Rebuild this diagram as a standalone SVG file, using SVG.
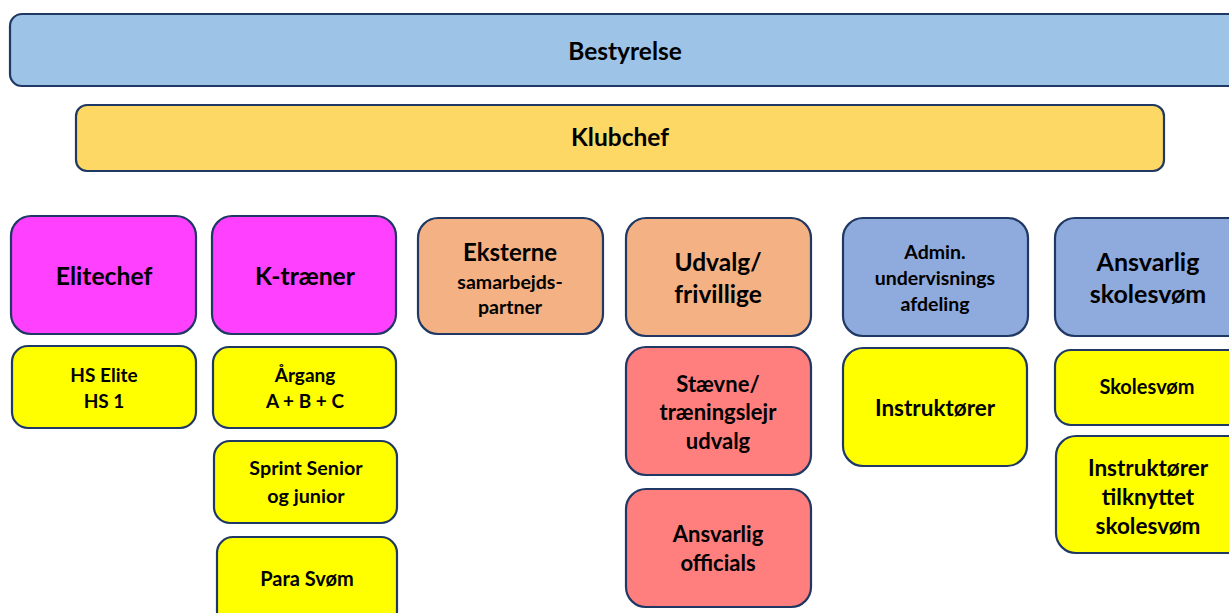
<svg xmlns="http://www.w3.org/2000/svg" width="1229" height="613" viewBox="0 0 1229 613">
<style>
rect{stroke:#1F3864;stroke-width:2.2}
text{font-family:Lato,"Liberation Sans",sans-serif;font-weight:bold;fill:#000;text-anchor:middle}
.b{fill:#9DC3E6}.k{fill:#FDD865}.m{fill:#FF40FF}.o{fill:#F4B183}.r{fill:#FF7F7F}.l{fill:#8FAADC}.y{fill:#FFFF00}
</style>
<rect width="1229" height="613" fill="#fff" style="stroke:none"/>
<g id="bestyrelse"><rect class="b" x="10" y="14" width="1240" height="72" rx="12"/><text x="625" y="60" font-size="24.5">Bestyrelse</text></g>
<g id="klubchef"><rect class="k" x="76" y="105" width="1088" height="66" rx="11"/><text x="620" y="146" font-size="24.5">Klubchef</text></g>
<g id="elitechef"><rect class="m" x="11" y="216" width="185" height="118" rx="20"/><text x="104" y="285" font-size="24.7">Elitechef</text></g>
<g id="ktraener"><rect class="m" x="212" y="216" width="184" height="118" rx="20"/><text x="305" y="285" font-size="24.7">K-træner</text></g>
<g id="hselite"><rect class="y" x="12" y="346" width="184" height="82" rx="16"/><text x="104" y="382" font-size="19">HS Elite</text><text x="104" y="408" font-size="19">HS 1</text></g>
<g id="aargang"><rect class="y" x="213" y="347" width="183" height="81" rx="16"/><text x="305" y="382" font-size="19">Årgang</text><text x="305" y="408" font-size="19">A + B + C</text></g>
<g id="sprint"><rect class="y" x="214" y="441" width="183" height="82" rx="16"/><text x="306" y="475" font-size="19.7">Sprint Senior</text><text x="306" y="503" font-size="19.7">og junior</text></g>
<g id="para"><rect class="y" x="217" y="537" width="180" height="90" rx="16"/><text x="307" y="586" font-size="20">Para Svøm</text></g>
<g id="eksterne"><rect class="o" x="418" y="218" width="185" height="116" rx="20"/><text x="510" y="261" font-size="24">Eksterne</text><text x="510" y="289" font-size="19.5">samarbejds-</text><text x="510" y="314" font-size="19.5">partner</text></g>
<g id="udvalg"><rect class="o" x="626" y="218" width="185" height="118" rx="20"/><text x="718" y="271" font-size="24.5">Udvalg/</text><text x="718" y="303" font-size="24.5">frivillige</text></g>
<g id="staevne"><rect class="r" x="626" y="347" width="185" height="128" rx="20"/><text x="718" y="392" font-size="22">Stævne/</text><text x="718" y="420" font-size="22">træningslejr</text><text x="718" y="449" font-size="22">udvalg</text></g>
<g id="officials"><rect class="r" x="626" y="489" width="185" height="118" rx="20"/><text x="718" y="542" font-size="22">Ansvarlig</text><text x="718" y="571" font-size="22">officials</text></g>
<g id="admin"><rect class="l" x="843" y="218" width="185" height="118" rx="20"/><text x="935" y="259" font-size="19.5">Admin.</text><text x="935" y="285" font-size="19.5">undervisnings</text><text x="935" y="311" font-size="19.5">afdeling</text></g>
<g id="instruktoerer"><rect class="y" x="843" y="348" width="184" height="118" rx="20"/><text x="935" y="416" font-size="22.5">Instruktører</text></g>
<g id="ansvarligskole"><rect class="l" x="1055" y="218" width="200" height="118" rx="20"/><text x="1148" y="271" font-size="25">Ansvarlig</text><text x="1148" y="303" font-size="25">skolesvøm</text></g>
<g id="skolesvoem"><rect class="y" x="1055" y="350" width="200" height="75" rx="16"/><text x="1147" y="394" font-size="20">Skolesvøm</text></g>
<g id="tilknyttet"><rect class="y" x="1056" y="436" width="200" height="117" rx="20"/><text x="1148" y="476" font-size="22.5">Instruktører</text><text x="1148" y="505" font-size="22.5">tilknyttet</text><text x="1148" y="534" font-size="22.5">skolesvøm</text></g>
<g id="connectors"/>
</svg>
